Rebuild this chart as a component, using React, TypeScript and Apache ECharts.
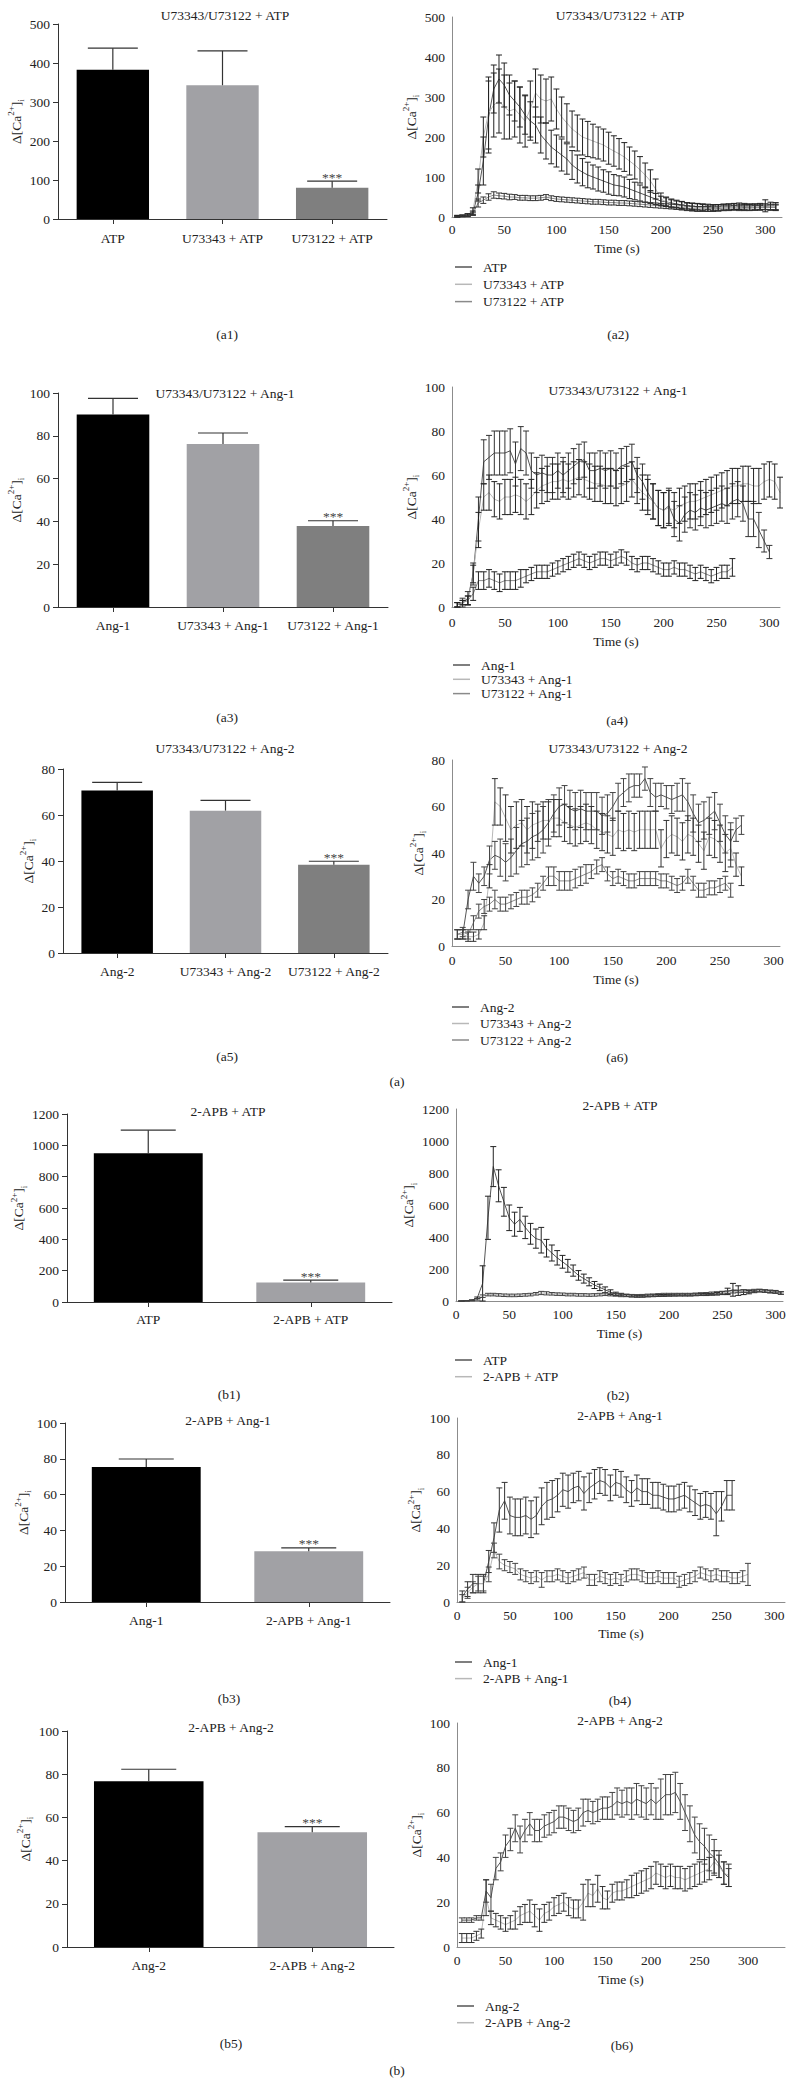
import React, { useEffect, useRef } from 'react';
import * as echarts from 'echarts';

const FONT = '"Liberation Serif", "Times New Roman", serif';
const INK = '#222222';
const FS = 13.5;

// ---------------- time grid (s) ----------------
const TIME = [5, 10, 15, 20, 25, 30, 35, 40, 45, 50, 55, 60, 65, 70, 75, 80, 85, 90, 95, 100,
  105, 110, 115, 120, 125, 130, 135, 140, 145, 150, 155, 160, 165, 170, 175, 180, 185, 190, 195, 200,
  205, 210, 215, 220, 225, 230, 235, 240, 245, 250, 255, 260, 265, 270, 275, 280, 285, 290, 295, 300,
  305, 310];

// ---------------- bar panels ----------------
const a1Cats = ['ATP', 'U73343 + ATP', 'U73122 + ATP'];
const a1Means = [383, 343, 80];
const a1Sem = [55, 88, 17];
const a1Sig = ['', '', '***'];

const a3Cats = ['Ang-1', 'U73343 + Ang-1', 'U73122 + Ang-1'];
const a3Means = [90, 76.2, 37.8];
const a3Sem = [7.5, 5.1, 2.5];
const a3Sig = ['', '', '***'];

const a5Cats = ['Ang-2', 'U73343 + Ang-2', 'U73122 + Ang-2'];
const a5Means = [70.7, 61.9, 38.4];
const a5Sem = [3.5, 4.5, 1.5];
const a5Sig = ['', '', '***'];

const b1Cats = ['ATP', '2-APB + ATP'];
const b1Means = [950, 124];
const b1Sem = [147, 15];
const b1Sig = ['', '***'];

const b3Cats = ['Ang-1', '2-APB + Ang-1'];
const b3Means = [75.4, 28.3];
const b3Sem = [4.5, 1.9];
const b3Sig = ['', '***'];

const b5Cats = ['Ang-2', '2-APB + Ang-2'];
const b5Means = [76.7, 53.1];
const b5Sem = [5.6, 2.6];
const b5Sig = ['', '***'];

// ---------------- time courses ----------------
// (a2) ATP
const a2Atp = [2, 3, 5, 10, 60, 140, 250, 320, 345, 330, 305, 290, 275, 255, 240, 230, 205, 190, 175, 165,
  155, 145, 130, 120, 112, 105, 100, 95, 90, 85, 80, 78, 75, 70, 65, 60, 55, 50, 45, 40,
  38, 35, 33, 30, 28, 27, 26, 25, 25, 24, 24, 25, 25, 26, 25, 24, 24, 25, 25, 26, 25, 25];
const a2AtpErr = [2, 2, 3, 5, 20, 60, 90, 60, 60, 55, 50, 50, 50, 48, 48, 45, 45, 45, 42, 40,
  40, 38, 36, 35, 34, 32, 30, 30, 28, 28, 26, 25, 25, 24, 22, 20, 18, 16, 14, 12,
  10, 10, 9, 9, 8, 8, 8, 8, 7, 7, 7, 7, 7, 7, 7, 7, 7, 7, 7, 7, 7, 7];
const a2U343 = [2, 3, 5, 15, 90, 200, 260, 280, 290, 275, 265, 270, 255, 240, 270, 310, 295, 290, 295, 270,
  250, 235, 220, 210, 200, 195, 190, 185, 180, 172, 165, 158, 150, 140, 130, 118, 105, 90, 70, 45,
  38, 33, 30, 28, 26, 25, 24, 23, 22, 22, 23, 24, 25, 26, 27, 26, 25, 25, 26, 28, 27, 26];
const a2U343Err = [2, 2, 3, 8, 30, 50, 90, 80, 80, 80, 70, 70, 70, 65, 70, 60, 60, 55, 55, 50,
  50, 48, 45, 45, 45, 44, 42, 40, 40, 40, 38, 38, 36, 35, 35, 33, 30, 28, 25, 15,
  12, 10, 10, 10, 9, 9, 9, 8, 8, 8, 8, 8, 8, 8, 8, 8, 8, 8, 8, 15, 10, 10];
const a2U122 = [1, 2, 3, 8, 35, 42, 50, 55, 53, 52, 50, 50, 48, 48, 47, 47, 48, 50, 47, 45,
  44, 43, 42, 41, 40, 39, 38, 38, 37, 36, 36, 35, 35, 34, 33, 32, 31, 30, 29, 28,
  27, 26, 25, 24, 22, 21, 20, 20, 20, 21, 21, 22, 22, 23, 22, 22, 22, 23, 23, 24, 24, 24];
const a2U122Err = [1, 1, 2, 4, 10, 8, 8, 8, 7, 7, 7, 6, 6, 6, 6, 6, 6, 6, 6, 6,
  6, 6, 6, 6, 6, 6, 6, 6, 6, 6, 6, 6, 6, 6, 6, 6, 6, 6, 6, 6,
  6, 6, 6, 6, 6, 6, 6, 6, 6, 6, 6, 6, 6, 6, 6, 6, 6, 6, 6, 6, 6, 6];

// (a4) Ang-1
const a4Ang1 = [1, 2, 4, 15, 40, 66, 68, 70, 70, 70, 71, 65, 72, 70, 62, 60, 61, 60, 60, 62,
  60, 62, 64, 66, 67, 62, 62, 63, 62, 63, 62, 64, 65, 66, 60, 57, 52, 48, 45, 44,
  46, 40, 38, 42, 44, 43, 45, 44, 45, 46, 47, 46, 48, 49, 47, 40, 40, 35, 30, 25];
const a4Ang1Err = [1, 2, 3, 5, 10, 10, 10, 10, 10, 10, 10, 10, 10, 10, 8, 8, 8, 8, 8, 8,
  8, 8, 8, 8, 8, 8, 8, 8, 8, 8, 8, 8, 8, 8, 8, 8, 8, 8, 8, 8,
  8, 8, 8, 8, 8, 8, 8, 8, 8, 8, 8, 8, 8, 8, 8, 8, 8, 8, 5, 3];
const a4U343 = [1, 2, 3, 15, 35, 50, 52, 49, 48, 50, 50, 51, 50, 48, 50, 53, 55, 56, 57, 57,
  58, 57, 58, 59, 58, 57, 56, 56, 55, 55, 54, 55, 56, 58, 55, 52, 50, 48, 45, 44,
  45, 44, 46, 47, 48, 48, 49, 50, 51, 52, 53, 54, 55, 55, 56, 56, 55, 55, 57, 58, 57, 52];
const a4U343Err = [1, 1, 2, 4, 8, 6, 8, 8, 8, 8, 8, 8, 8, 8, 8, 8, 8, 8, 8, 8,
  8, 8, 8, 8, 8, 8, 8, 8, 8, 8, 8, 8, 8, 8, 8, 8, 8, 8, 8, 8,
  8, 8, 8, 8, 8, 8, 8, 8, 8, 8, 8, 8, 8, 8, 8, 8, 8, 8, 8, 8, 8, 7];
const a4U122 = [1, 2, 3, 6, 12, 12, 13, 12, 11, 12, 12, 12, 13, 14, 15, 16, 16, 16, 17, 18,
  19, 20, 21, 22, 21, 20, 21, 22, 22, 21, 22, 23, 22, 20, 19, 20, 20, 19, 18, 17,
  17, 18, 17, 17, 16, 15, 16, 15, 14, 15, 16, 16, 18];
const a4U122Err = [1, 1, 2, 3, 4, 4, 4, 4, 4, 4, 4, 4, 4, 3, 3, 3, 3, 3, 3, 3,
  3, 3, 3, 3, 3, 3, 3, 3, 3, 3, 3, 3, 3, 3, 3, 3, 3, 3, 3, 3,
  3, 3, 3, 3, 3, 3, 3, 3, 3, 3, 3, 3, 4];

// (a6) Ang-2
const a6Ang2 = [5, 5, 20, 30, 27, 30, 37, 39, 38, 36, 38, 41, 44, 45, 47, 48, 50, 53, 57, 60,
  61, 59, 58, 59, 58, 58, 58, 56, 57, 60, 64, 66, 68, 69, 69, 72, 66, 64, 65, 64,
  63, 64, 65, 62, 57, 53, 54, 56, 58, 53, 48, 45, 50, 52];
const a6Ang2Err = [2, 2, 4, 6, 4, 4, 6, 6, 8, 8, 8, 10, 10, 10, 10, 10, 10, 10, 8, 8,
  8, 8, 8, 8, 8, 8, 8, 8, 8, 6, 6, 6, 6, 5, 5, 5, 6, 6, 5, 5,
  6, 6, 7, 8, 8, 8, 8, 8, 8, 8, 8, 8, 5, 4];
const a6U343 = [5, 5, 4, 4, 5, 10, 30, 62, 60, 55, 50, 52, 53, 50, 52, 53, 54, 54, 55, 55,
  53, 52, 51, 52, 53, 52, 50, 49, 48, 47, 50, 49, 50, 49, 50, 50, 50, 50, 42, 46,
  48, 47, 45, 48, 47, 44, 41, 47, 46, 44, 40, 42, 35, 30];
const a6U343Err = [2, 2, 2, 2, 2, 3, 5, 10, 8, 10, 10, 10, 10, 10, 10, 8, 8, 8, 8, 8,
  8, 8, 8, 8, 8, 8, 8, 8, 8, 8, 8, 8, 8, 8, 8, 8, 8, 8, 8, 8,
  8, 8, 8, 8, 8, 8, 8, 8, 8, 8, 8, 8, 5, 4];
const a6U122 = [5, 6, 5, 10, 15, 17, 18, 20, 18, 18, 19, 20, 21, 21, 22, 24, 27, 30, 30, 28,
  28, 28, 29, 30, 31, 32, 34, 35, 31, 29, 30, 29, 28, 28, 29, 29, 29, 29, 28, 28,
  27, 26, 27, 30, 27, 24, 24, 25, 25, 26, 27, 24];
const a6U122Err = [2, 2, 2, 3, 3, 3, 3, 4, 3, 3, 3, 3, 3, 3, 3, 3, 3, 4, 4, 4,
  4, 4, 4, 4, 4, 3, 3, 3, 3, 3, 3, 3, 3, 3, 3, 3, 3, 3, 3, 3,
  3, 3, 3, 3, 3, 3, 3, 3, 3, 3, 3, 3];

// (b2) ATP
const b2Atp = [0, 2, 5, 20, 110, 520, 840, 720, 620, 520, 480, 510, 460, 420, 390, 380, 330, 300, 270, 245,
  220, 190, 160, 140, 120, 100, 85, 70, 55, 45, 40, 35, 32, 30, 30, 32, 33, 34, 35, 36,
  37, 38, 38, 38, 39, 40, 40, 42, 45, 50, 60, 70, 65, 55, 55, 60, 65, 62, 60, 58, 50];
const b2AtpErr = [0, 1, 2, 5, 110, 135, 125, 100, 90, 80, 75, 75, 70, 65, 60, 80, 55, 50, 45, 40,
  40, 35, 30, 28, 25, 22, 20, 18, 15, 10, 8, 6, 6, 6, 6, 6, 6, 6, 6, 6,
  6, 6, 6, 6, 6, 6, 6, 6, 8, 10, 20, 40, 30, 15, 10, 8, 8, 8, 8, 8, 8];
const b2Apb = [0, 1, 3, 10, 30, 40, 40, 38, 36, 35, 35, 36, 38, 40, 45, 50, 48, 45, 43, 42,
  40, 40, 38, 38, 37, 38, 40, 42, 40, 38, 35, 35, 33, 32, 33, 35, 36, 38, 40, 40,
  40, 40, 40, 40, 42, 44, 45, 48, 50, 52, 55, 58, 60, 62, 62, 65, 65, 62, 58, 55, 50];
const b2ApbErr = [0, 1, 2, 5, 8, 8, 8, 8, 8, 8, 8, 8, 8, 8, 8, 10, 10, 8, 8, 8,
  8, 8, 8, 8, 8, 8, 8, 8, 8, 8, 8, 8, 8, 8, 8, 8, 8, 8, 8, 8,
  8, 8, 8, 8, 8, 8, 8, 8, 8, 8, 8, 8, 8, 8, 8, 8, 8, 8, 8, 8, 8];

// (b4) Ang-1
const b4Ang1 = [3, 7, 10, 10, 10, 22, 35, 50, 55, 47, 46, 46, 47, 45, 47, 52, 55, 56, 58, 61,
  60, 62, 63, 59, 62, 64, 66, 65, 62, 65, 64, 61, 59, 62, 60, 60, 58, 58, 57, 56,
  56, 57, 58, 56, 54, 52, 53, 52, 48, 52, 58, 58];
const b4Ang1Err = [3, 4, 5, 5, 5, 6, 8, 12, 10, 10, 10, 10, 10, 10, 10, 10, 10, 10, 9, 9,
  9, 8, 8, 9, 8, 8, 7, 7, 7, 7, 7, 7, 7, 7, 7, 7, 7, 7, 7, 7,
  7, 7, 7, 7, 7, 7, 7, 7, 12, 8, 8, 8];
const b4Apb = [2, 5, 8, 10, 10, 15, 28, 22, 20, 19, 18, 15, 14, 13, 14, 12, 14, 14, 15, 14,
  13, 14, 15, 16, 12, 12, 14, 13, 12, 13, 12, 14, 15, 15, 14, 13, 13, 14, 13, 13,
  13, 11, 12, 13, 14, 16, 15, 14, 15, 14, 14, 13, 13, 14, 15];
const b4ApbErr = [2, 3, 3, 4, 4, 4, 4, 4, 3, 3, 3, 3, 3, 3, 3, 4, 3, 3, 3, 3,
  3, 3, 3, 3, 3, 3, 3, 3, 3, 3, 3, 3, 3, 3, 3, 3, 3, 3, 3, 3,
  3, 3, 3, 3, 3, 3, 3, 3, 3, 3, 3, 3, 3, 3, 6];

// (b6) Ang-2
const b6Ang2 = [12, 12, 12, 13, 13, 25, 22, 35, 38, 45, 48, 53, 48, 52, 55, 52, 52, 54, 55, 56,
  58, 58, 57, 56, 57, 60, 61, 60, 61, 62, 62, 63, 65, 64, 65, 64, 66, 65, 64, 66,
  64, 66, 68, 68, 69, 65, 60, 55, 50, 47, 45, 42, 40, 37, 33, 31];
const b6Ang2Err = [1, 1, 1, 1, 1, 5, 6, 5, 4, 5, 5, 6, 6, 5, 5, 5, 5, 5, 5, 5,
  5, 5, 5, 5, 5, 6, 5, 5, 5, 5, 5, 6, 6, 6, 6, 7, 7, 7, 7, 7,
  7, 9, 9, 9, 9, 8, 8, 8, 8, 8, 8, 8, 8, 6, 5, 4];
const b6Apb = [4, 4, 4, 5, 6, 22, 13, 12, 11, 10, 11, 12, 14, 15, 16, 14, 12, 15, 16, 18,
  19, 20, 18, 17, 17, 20, 24, 23, 26, 22, 21, 24, 25, 25, 26, 27, 28, 29, 30, 31,
  33, 32, 31, 32, 31, 31, 30, 31, 32, 33, 34, 35, 38, 36, 33, 32];
const b6ApbErr = [2, 2, 2, 2, 2, 8, 3, 3, 3, 3, 3, 4, 4, 4, 5, 5, 5, 4, 4, 4,
  4, 4, 4, 4, 4, 8, 6, 5, 6, 5, 4, 4, 4, 4, 4, 5, 5, 5, 5, 5,
  5, 5, 5, 5, 5, 5, 5, 5, 5, 5, 5, 5, 5, 5, 5, 5];

// ---------------- colours ----------------
const BAR3 = ['#000000', '#a1a1a5', '#7f7f7f'];
const BAR2 = ['#000000', '#a1a1a5'];
const LINE_DARK = '#555555';
const LINE_LIGHT = '#b8b8b8';
const LINE_MID = '#8a8a8a';

const Y_NAME = '{a|Δ[Ca}{s|2+}{a|]}{b|i}';
const yNameStyle = {
  fontFamily: FONT,
  color: INK,
  rich: {
    a: { fontFamily: FONT, fontSize: FS, color: INK, lineHeight: 19 },
    s: { fontFamily: FONT, fontSize: 9, color: INK, verticalAlign: 'top', lineHeight: 10 },
    b: { fontFamily: FONT, fontSize: 9, color: INK, verticalAlign: 'bottom', lineHeight: 10 },
  },
};

const plainNum = (v: number) => String(v);

function barErr(sig: string[], capW: number) {
  return (params: any, api: any) => {
    const i = api.value(0);
    const m = api.value(1);
    const e = api.value(2);
    const p0 = api.coord([i, m]);
    const p1 = api.coord([i, m + e]);
    const st = { stroke: '#333333', lineWidth: 1.2 };
    const children: any[] = [
      { type: 'line', shape: { x1: p0[0], y1: p0[1], x2: p1[0], y2: p1[1] }, style: st },
      { type: 'line', shape: { x1: p1[0] - capW / 2, y1: p1[1], x2: p1[0] + capW / 2, y2: p1[1] }, style: st },
    ];
    const s = sig[params.dataIndex];
    if (s) {
      children.push({
        type: 'text',
        x: p1[0],
        y: p1[1] + 3,
        style: {
          text: s, fontFamily: FONT, fontSize: FS, fill: '#444444',
          align: 'center', verticalAlign: 'bottom', textAlign: 'center', textVerticalAlign: 'bottom',
        },
      });
    }
    return { type: 'group', children };
  };
}

function lineErr(color: string, hw: number) {
  return (_params: any, api: any) => {
    const x = api.value(0);
    const y = api.value(1);
    const e = api.value(2);
    const p1 = api.coord([x, y + e]);
    const p2 = api.coord([x, Math.max(0, y - e)]);
    const st = { stroke: color, lineWidth: 1 };
    return {
      type: 'group',
      children: [
        { type: 'line', shape: { x1: p1[0], y1: p1[1], x2: p2[0], y2: p2[1] }, style: st },
        { type: 'line', shape: { x1: p1[0] - hw, y1: p1[1], x2: p1[0] + hw, y2: p1[1] }, style: st },
        { type: 'line', shape: { x1: p2[0] - hw, y1: p2[1], x2: p2[0] + hw, y2: p2[1] }, style: st },
      ],
    };
  };
}

function buildOption() {
  const grid: any[] = [];
  const xAxis: any[] = [];
  const yAxis: any[] = [];
  const series: any[] = [];
  const legend: any[] = [];
  const graphic: any[] = [];

  const addBar = (p: any) => {
    const gi = grid.length;
    grid.push({ left: p.box[0], top: p.box[1], width: p.box[2], height: p.box[3] });
    xAxis.push({
      gridIndex: gi, type: 'category', data: p.cats,
      axisLine: { show: true, lineStyle: { color: '#333333', width: 1 } },
      axisTick: { show: true, alignWithLabel: true, length: 5, lineStyle: { color: '#333333' } },
      axisLabel: { fontFamily: FONT, fontSize: FS, color: INK, margin: p.labelMargin, interval: 0 },
      splitLine: { show: false },
    });
    yAxis.push({
      gridIndex: gi, type: 'value', min: 0, max: p.max, interval: p.interval,
      axisLine: { show: true, lineStyle: { color: '#333333', width: 1 } },
      axisTick: { show: true, length: 5, lineStyle: { color: '#333333' } },
      axisLabel: { fontFamily: FONT, fontSize: FS, color: INK, margin: 8, formatter: plainNum },
      splitLine: { show: false },
      name: Y_NAME, nameLocation: 'middle', nameGap: p.nameGap, nameRotate: 90, nameTextStyle: yNameStyle,
    });
    series.push({
      type: 'bar', xAxisIndex: gi, yAxisIndex: gi, barWidth: p.barWidth, silent: true, z: 2,
      data: p.means.map((v: number, i: number) => ({ value: v, itemStyle: { color: p.colors[i] } })),
    });
    series.push({
      type: 'custom', xAxisIndex: gi, yAxisIndex: gi, silent: true, z: 3,
      data: p.means.map((v: number, i: number) => [i, v, p.sem[i]]),
      encode: { x: 0, y: 1 },
      renderItem: barErr(p.sig, p.capW),
    });
  };

  const addLine = (p: any) => {
    const gi = grid.length;
    grid.push({ left: p.box[0], top: p.box[1], width: p.box[2], height: p.box[3] });
    xAxis.push({
      gridIndex: gi, type: 'value', min: 0, max: p.xMax, interval: 50,
      axisLine: { show: true, lineStyle: { color: '#8c8c8c', width: 1 } },
      axisTick: { show: false },
      axisLabel: {
        fontFamily: FONT, fontSize: FS, color: INK, margin: p.xLabelMargin,
        formatter: (v: number) => (v % 50 === 0 ? String(v) : ''),
      },
      splitLine: { show: false },
      name: 'Time (s)', nameLocation: 'middle', nameGap: p.xNameGap,
      nameTextStyle: { fontFamily: FONT, fontSize: FS, color: INK },
    });
    yAxis.push({
      gridIndex: gi, type: 'value', min: 0, max: p.yMax, interval: p.yInt,
      axisLine: { show: true, lineStyle: { color: '#8c8c8c', width: 1 } },
      axisTick: { show: false },
      axisLabel: { fontFamily: FONT, fontSize: FS, color: INK, margin: 7, formatter: plainNum },
      splitLine: { show: false },
      name: Y_NAME, nameLocation: 'middle', nameGap: p.nameGap, nameRotate: 90, nameTextStyle: yNameStyle,
    });
    const names: string[] = [];
    p.series.forEach((s: any) => {
      const nm = s.name + '#' + p.id;
      names.push(nm);
      series.push({
        type: 'line', name: nm, xAxisIndex: gi, yAxisIndex: gi, symbol: 'none', silent: true, z: 3,
        lineStyle: { color: s.color, width: 1 }, itemStyle: { color: s.color },
        data: s.values.map((v: number, i: number) => [TIME[i], v]),
      });
      series.push({
        type: 'custom', xAxisIndex: gi, yAxisIndex: gi, silent: true, z: 4,
        data: s.values.map((v: number, i: number) => [TIME[i], v, s.err[i]]),
        encode: { x: 0, y: 1 },
        renderItem: lineErr(s.errColor, 3),
      });
    });
    legend.push({
      data: names, orient: 'vertical', left: p.legend[0], top: p.legend[1], itemGap: p.legend[2],
      itemWidth: 17, itemHeight: 1.5, icon: 'rect', selectedMode: false, padding: 0,
      formatter: (n: string) => n.split('#')[0],
      textStyle: { fontFamily: FONT, fontSize: FS, color: INK, lineHeight: 14, padding: [0, 0, 0, 6] },
    });
  };

  addBar({ cats: a1Cats, means: a1Means, sem: a1Sem, sig: a1Sig, colors: BAR3, box: [58, 24, 329, 195], max: 500, interval: 100, labelMargin: 12, nameGap: 21, barWidth: '66%', capW: 50 });
  addBar({ cats: a3Cats, means: a3Means, sem: a3Sem, sig: a3Sig, colors: BAR3, box: [58, 393, 330, 214], max: 100, interval: 20, labelMargin: 11, nameGap: 20, barWidth: '66%', capW: 50 });
  addBar({ cats: a5Cats, means: a5Means, sem: a5Sem, sig: a5Sig, colors: BAR3, box: [63, 769, 325, 184], max: 80, interval: 20, labelMargin: 11, nameGap: 25, barWidth: '66%', capW: 50 });
  addBar({ cats: b1Cats, means: b1Means, sem: b1Sem, sig: b1Sig, colors: BAR2, box: [67, 1114, 325, 188], max: 1200, interval: 200, labelMargin: 10, nameGap: 39, barWidth: '67%', capW: 55 });
  addBar({ cats: b3Cats, means: b3Means, sem: b3Sem, sig: b3Sig, colors: BAR2, box: [65, 1423, 325, 179], max: 100, interval: 20, labelMargin: 11, nameGap: 28, barWidth: '67%', capW: 55 });
  addBar({ cats: b5Cats, means: b5Means, sem: b5Sem, sig: b5Sig, colors: BAR2, box: [67, 1731, 327, 216], max: 100, interval: 20, labelMargin: 11, nameGap: 30, barWidth: '67%', capW: 55 });

  addLine({
    id: 'a2', box: [452, 17, 330, 200], xMax: 316, yMax: 500, yInt: 100, xLabelMargin: 5, xNameGap: 24, nameGap: 25,
    legend: [455, 260, 3.3],
    series: [
      { name: 'ATP', values: a2Atp, err: a2AtpErr, color: LINE_DARK, errColor: '#222222' },
      { name: 'U73343 + ATP', values: a2U343, err: a2U343Err, color: LINE_LIGHT, errColor: '#222222' },
      { name: 'U73122 + ATP', values: a2U122, err: a2U122Err, color: LINE_MID, errColor: '#333333' },
    ],
  });
  addLine({
    id: 'a4', box: [452, 387, 328, 220], xMax: 310, yMax: 100, yInt: 20, xLabelMargin: 8, xNameGap: 27, nameGap: 30,
    legend: [453, 658, 0.3],
    series: [
      { name: 'Ang-1', values: a4Ang1, err: a4Ang1Err, color: LINE_DARK, errColor: '#333333' },
      { name: 'U73343 + Ang-1', values: a4U343, err: a4U343Err, color: LINE_LIGHT, errColor: '#222222' },
      { name: 'U73122 + Ang-1', values: a4U122, err: a4U122Err, color: LINE_MID, errColor: '#222222' },
    ],
  });
  addLine({
    id: 'a6', box: [452, 760, 328, 186], xMax: 306, yMax: 80, yInt: 20, xLabelMargin: 7, xNameGap: 26, nameGap: 20,
    legend: [452, 1000, 2.5],
    series: [
      { name: 'Ang-2', values: a6Ang2, err: a6Ang2Err, color: LINE_DARK, errColor: '#444444' },
      { name: 'U73343 + Ang-2', values: a6U343, err: a6U343Err, color: LINE_LIGHT, errColor: '#333333' },
      { name: 'U73122 + Ang-2', values: a6U122, err: a6U122Err, color: LINE_MID, errColor: '#444444' },
    ],
  });
  addLine({
    id: 'b2', box: [456, 1109, 327, 192], xMax: 307, yMax: 1200, yInt: 200, xLabelMargin: 6, xNameGap: 25, nameGap: 31,
    legend: [455, 1353, 2.7],
    series: [
      { name: 'ATP', values: b2Atp, err: b2AtpErr, color: LINE_DARK, errColor: '#222222' },
      { name: '2-APB + ATP', values: b2Apb, err: b2ApbErr, color: LINE_LIGHT, errColor: '#444444' },
    ],
  });
  addLine({
    id: 'b4', box: [457, 1418, 328, 184], xMax: 310, yMax: 100, yInt: 20, xLabelMargin: 6, xNameGap: 24, nameGap: 32,
    legend: [455, 1655, 2.6],
    series: [
      { name: 'Ang-1', values: b4Ang1, err: b4Ang1Err, color: LINE_DARK, errColor: '#333333' },
      { name: '2-APB + Ang-1', values: b4Apb, err: b4ApbErr, color: LINE_LIGHT, errColor: '#444444' },
    ],
  });
  addLine({
    id: 'b6', box: [457, 1723, 328, 224], xMax: 338, yMax: 100, yInt: 20, xLabelMargin: 6, xNameGap: 25, nameGap: 22,
    legend: [457, 1999, 2.7],
    series: [
      { name: 'Ang-2', values: b6Ang2, err: b6Ang2Err, color: LINE_DARK, errColor: '#444444' },
      { name: '2-APB + Ang-2', values: b6Apb, err: b6ApbErr, color: LINE_LIGHT, errColor: '#333333' },
    ],
  });

  const labels: [string, number, number][] = [
    ['U73343/U73122 + ATP', 225, 15], ['U73343/U73122 + ATP', 620, 15],
    ['U73343/U73122 + Ang-1', 225, 393], ['U73343/U73122 + Ang-1', 618, 390],
    ['U73343/U73122 + Ang-2', 225, 748], ['U73343/U73122 + Ang-2', 618, 748],
    ['2-APB + ATP', 228, 1111], ['2-APB + ATP', 620, 1105],
    ['2-APB + Ang-1', 228, 1420], ['2-APB + Ang-1', 620, 1415],
    ['2-APB + Ang-2', 231, 1727], ['2-APB + Ang-2', 620, 1720],
    ['(a1)', 227, 334], ['(a2)', 618, 334],
    ['(a3)', 227, 717], ['(a4)', 617, 720],
    ['(a5)', 227, 1056], ['(a6)', 617, 1057],
    ['(a)', 397, 1081],
    ['(b1)', 229, 1394], ['(b2)', 618, 1395],
    ['(b3)', 229, 1698], ['(b4)', 620, 1700],
    ['(b5)', 231, 2043], ['(b6)', 622, 2045],
    ['(b)', 397, 2070],
  ];
  labels.forEach(([t, x, y]) => {
    graphic.push({
      type: 'text', x, y, silent: true,
      style: {
        text: t, fontFamily: FONT, fontSize: FS, fill: INK,
        align: 'center', verticalAlign: 'middle', textAlign: 'center', textVerticalAlign: 'middle',
      },
    });
  });

  return {
    animation: false,
    backgroundColor: '#ffffff',
    textStyle: { fontFamily: FONT },
    grid, xAxis, yAxis, series, legend,
    graphic: { elements: graphic },
  };
}

export default function App() {
  const ref = useRef<HTMLDivElement>(null);
  useEffect(() => {
    const chart = echarts.init(ref.current as HTMLDivElement, undefined, { renderer: 'svg' });
    chart.setOption(buildOption() as any);
    return () => chart.dispose();
  }, []);
  return (
    <div
      ref={ref}
      style={{ position: 'absolute', left: 0, top: 0, width: 794, height: 2084, background: '#ffffff' }}
    />
  );
}
